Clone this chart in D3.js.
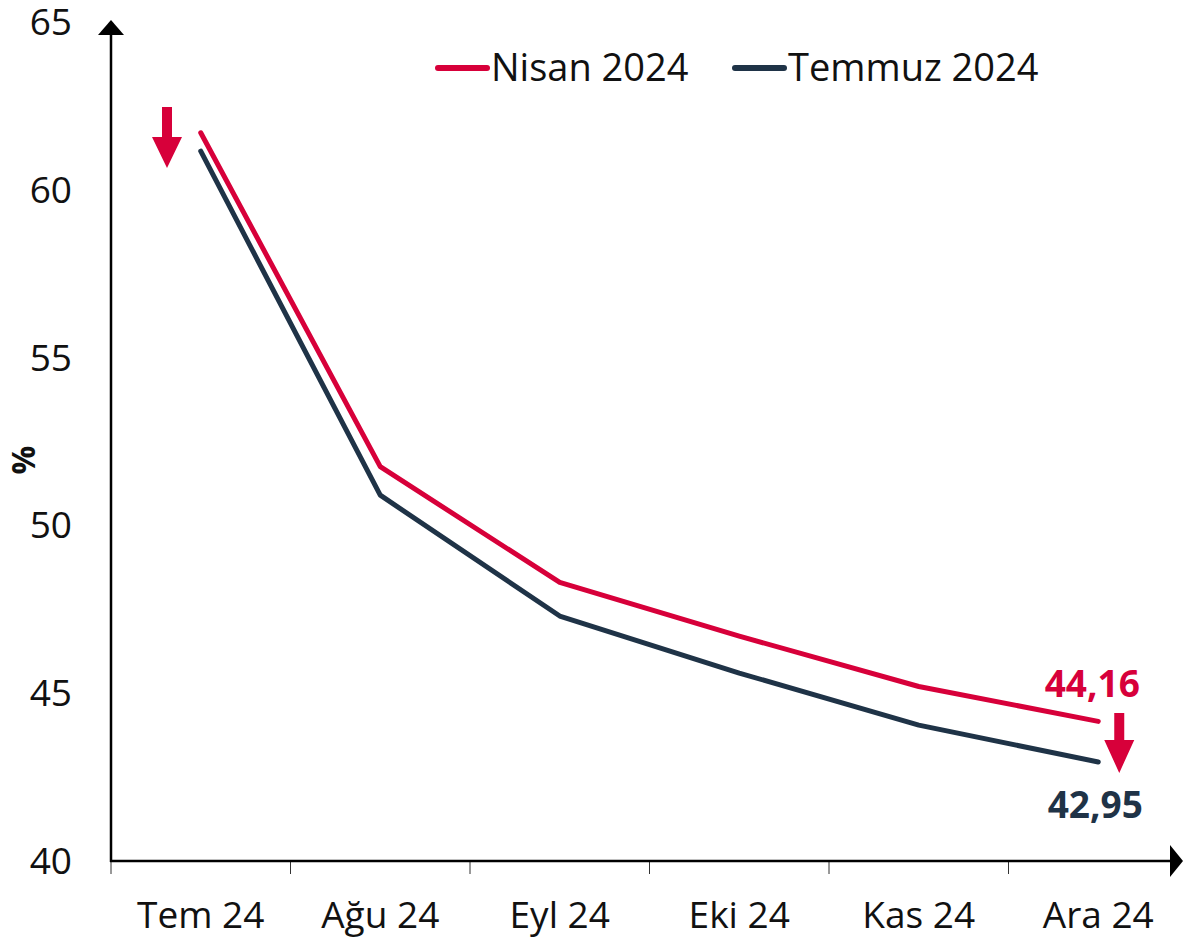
<!DOCTYPE html>
<html>
<head>
<meta charset="utf-8">
<script src="https://cdn.jsdelivr.net/npm/d3@7"></script>
<style>
  body { margin: 0; background: #fff; }
  svg { font-family: 'Open Sans', sans-serif; }
</style>
</head>
<body>
<svg id="canvas" width="1183" height="942"></svg>
<script>
// months on the x axis
let months = ['Tem 24', 'Ağu 24', 'Eyl 24', 'Eki 24', 'Kas 24', 'Ara 24']
// survey rounds
let seriesNames = ['Nisan 2024', 'Temmuz 2024']
let nisanValues = [61.7, 51.75, 48.3, 46.7, 45.2, 44.16]
let temmuzValues = [61.15, 50.9, 47.3, 45.6, 44.05, 42.95]
let yTicks = [40, 45, 50, 55, 60, 65]

let red = '#d7003a'
let navy = '#1f3347'
let colors = [red, navy]

let canvas = d3.select('#canvas')

let plotLeft = 111
let plotBottom = 861
let plotTop = 22
let plotRight = 1188

let xScale = d3.scaleBand()
                .domain(months)
                .range([plotLeft, plotRight])
let yScale = d3.scaleLinear()
                .domain([40, 65])
                .range([plotBottom, plotTop])

let cx = (m) => xScale(m) + xScale.bandwidth() / 2

// y axis labels (no tick marks)
canvas.append('g')
    .selectAll('text')
    .data(yTicks)
    .enter()
    .append('text')
    .attr('x', 72)
    .attr('y', (d) => yScale(d))
    .attr('dy', '0.35em')
    .attr('text-anchor', 'end')
    .attr('font-size', 37)
    .attr('fill', '#111')
    .text((d) => d)

// x axis ticks + labels
let xTickPos = months.map((m) => xScale(m))
canvas.append('g')
    .selectAll('line')
    .data(xTickPos)
    .enter()
    .append('line')
    .attr('x1', (d) => d)
    .attr('x2', (d) => d)
    .attr('y1', plotBottom)
    .attr('y2', plotBottom + 13)
    .attr('stroke', '#333')
    .attr('stroke-width', 1)

canvas.append('g')
    .selectAll('text')
    .data(months)
    .enter()
    .append('text')
    .attr('x', (m) => cx(m))
    .attr('y', 928)
    .attr('text-anchor', 'middle')
    .attr('font-size', 37)
    .attr('fill', '#111')
    .text((m) => m)

// axis lines with arrow heads
canvas.append('line')
    .attr('x1', plotLeft).attr('x2', plotLeft)
    .attr('y1', plotBottom + 1).attr('y2', 34)
    .attr('stroke', '#000').attr('stroke-width', 2.5)
canvas.append('path')
    .attr('d', 'M' + (plotLeft - 13) + ',35 L' + plotLeft + ',20 L' + (plotLeft + 13) + ',35 Z')
    .attr('fill', '#000')

canvas.append('line')
    .attr('x1', plotLeft - 1).attr('x2', 1172)
    .attr('y1', plotBottom).attr('y2', plotBottom)
    .attr('stroke', '#000').attr('stroke-width', 2.5)
canvas.append('path')
    .attr('d', 'M1170,' + (plotBottom - 16) + ' L1183,' + plotBottom + ' L1170,' + (plotBottom + 16) + ' Z')
    .attr('fill', '#000')

// y axis title
canvas.append('text')
    .attr('transform', 'translate(35,460) rotate(-90)')
    .attr('text-anchor', 'middle')
    .attr('font-size', 32)
    .attr('font-weight', 'bold')
    .attr('fill', '#111')
    .text('%')

// lines
let line = d3.line()
            .x((d, i) => cx(months[i]))
            .y((d) => yScale(d))

let allSeries = [nisanValues, temmuzValues]
canvas.append('g')
    .selectAll('path')
    .data(allSeries)
    .enter()
    .append('path')
    .attr('d', (s) => line(s))
    .attr('fill', 'none')
    .attr('stroke', (s, i) => colors[i])
    .attr('stroke-width', 5)
    .attr('stroke-linecap', 'round')
    .attr('stroke-linejoin', 'round')

// end labels
let last = months.length - 1
canvas.append('text')
    .attr('x', cx(months[last]) - 6)
    .attr('y', yScale(nisanValues[last]) - 24)
    .attr('text-anchor', 'middle')
    .attr('font-size', 37)
    .attr('font-weight', 'bold')
    .attr('fill', red)
    .text(String(nisanValues[last]).replace('.', ','))

canvas.append('text')
    .attr('x', cx(months[last]) - 3)
    .attr('y', yScale(temmuzValues[last]) + 56)
    .attr('text-anchor', 'middle')
    .attr('font-size', 37)
    .attr('font-weight', 'bold')
    .attr('fill', navy)
    .text(String(temmuzValues[last]).replace('.', ','))

// down arrows
let downArrow = (x, yTop, yBase, yTip) => {
    return 'M' + (x - 5) + ',' + yTop + ' L' + (x + 5) + ',' + yTop +
           ' L' + (x + 5) + ',' + yBase + ' L' + (x + 15) + ',' + yBase +
           ' L' + x + ',' + yTip + ' L' + (x - 15) + ',' + yBase +
           ' L' + (x - 5) + ',' + yBase + ' Z'
}
canvas.append('path')
    .attr('d', downArrow(xScale(months[0]) + 56, 107, 137, 168))
    .attr('fill', red)
canvas.append('path')
    .attr('d', downArrow(cx(months[last]) + 21, 713, 740, 773))
    .attr('fill', red)

// legend
let legendX = [436, 733]
let legend = canvas.append('g')
    .selectAll('g')
    .data(seriesNames)
    .enter()
    .append('g')
    .attr('transform', (d, i) => 'translate(' + legendX[i] + ',68)')
legend.append('line')
    .attr('x1', 2).attr('x2', 51)
    .attr('y1', 0).attr('y2', 0)
    .attr('stroke', (d, i) => colors[i])
    .attr('stroke-width', 6)
    .attr('stroke-linecap', 'round')
legend.append('text')
    .attr('x', 55)
    .attr('y', 0)
    .attr('dy', '0.35em')
    .attr('font-size', 38)
    .attr('fill', '#111')
    .text((d) => d)
</script>
</body>
</html>
